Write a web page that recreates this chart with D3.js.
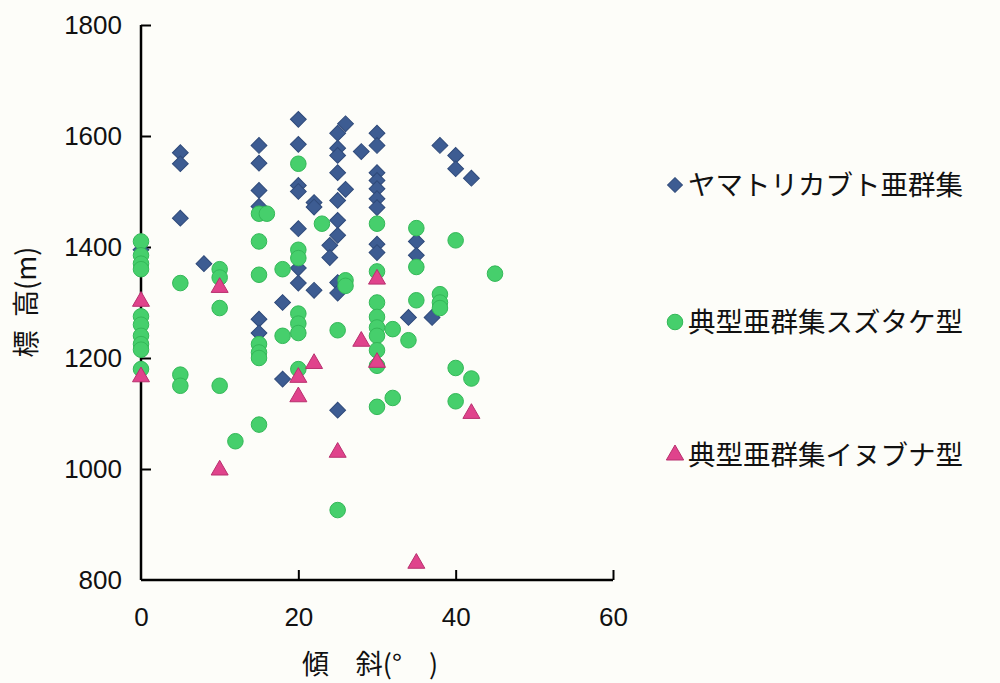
<!DOCTYPE html>
<html>
<head>
<meta charset="utf-8">
<script src="https://cdn.jsdelivr.net/npm/d3@7"></script>
<style>
  body { margin: 0; background: #fdfdf9; }
  text { font-family: "Liberation Sans", Arial, sans-serif; }
  .jp { font-family: "Noto Sans CJK JP", sans-serif; }
</style>
</head>
<body>
<div id="chart"></div>
<script>
// slope (deg) / elevation (m) pairs
const yamatorikabuto = [
  [0, 1395],
  [5, 1570], [5, 1550], [5, 1452],
  [8, 1370],
  [15, 1583], [15, 1551], [15, 1502], [15, 1473], [15, 1270], [15, 1245],
  [18, 1300], [18, 1162],
  [20, 1630], [20, 1585], [20, 1511], [20, 1500], [20, 1433], [20, 1362], [20, 1335],
  [22, 1480], [22, 1472], [22, 1322],
  [24, 1403], [24, 1381],
  [25, 1605], [25, 1578], [25, 1565], [25, 1534], [25, 1484], [25, 1448], [25, 1421], [25, 1336], [25, 1317], [25, 1106],
  [26, 1622], [26, 1504],
  [28, 1572],
  [30, 1605], [30, 1583], [30, 1534], [30, 1520], [30, 1505], [30, 1487], [30, 1471], [30, 1405], [30, 1390],
  [34, 1273], [35, 1410], [35, 1385], [37, 1273],
  [38, 1583], [40, 1565], [40, 1541], [42, 1524]
];

const suzutake = [
  [0, 1410], [0, 1385], [0, 1370], [0, 1360], [0, 1275], [0, 1260], [0, 1240], [0, 1225], [0, 1215], [0, 1180],
  [5, 1335], [5, 1170], [5, 1150],
  [10, 1360], [10, 1345], [10, 1290], [10, 1150],
  [12, 1050],
  [15, 1460], [15, 1410], [15, 1350], [15, 1225], [15, 1210], [15, 1200], [15, 1080],
  [16, 1460],
  [18, 1360], [18, 1240],
  [20, 1550], [20, 1395], [20, 1380], [20, 1280], [20, 1262], [20, 1245], [20, 1180],
  [23, 1442],
  [25, 1250], [25, 926],
  [26, 1340], [26, 1330],
  [30, 1442], [30, 1356], [30, 1300], [30, 1274], [30, 1255], [30, 1240], [30, 1214], [30, 1186], [30, 1112],
  [32, 1252], [32, 1128],
  [34, 1232],
  [35, 1434], [35, 1364], [35, 1304],
  [38, 1315], [38, 1300], [38, 1290],
  [40, 1412], [40, 1182], [40, 1122],
  [42, 1163],
  [45, 1352]
];

const inubuna = [
  [0, 1302], [0, 1166],
  [10, 1327], [10, 998],
  [20, 1165], [20, 1130],
  [22, 1190],
  [25, 1030],
  [28, 1230],
  [30, 1342], [30, 1192],
  [35, 830],
  [42, 1100]
];

const seriesNames = ["ヤマトリカブト亜群集", "典型亜群集スズタケ型", "典型亜群集イヌブナ型"];
const xTicks = [0, 20, 40, 60];
const yTicks = [800, 1000, 1200, 1400, 1600, 1800];

const width = 1000, height = 683;
const margin = { top: 25, left: 141, right: 387, bottom: 103 };

const svg = d3.select("#chart")
  .append("svg")
  .attr("width", width)
  .attr("height", height);

svg.append("rect")
  .attr("width", width)
  .attr("height", height)
  .attr("fill", "#fdfdf9");

const x = d3.scaleLinear()
  .domain([0, 60])
  .range([margin.left, width - margin.right]);

const y = d3.scaleLinear()
  .domain([800, 1800])
  .range([height - margin.bottom, margin.top]);

// X axis, ticks pointing inward
const xAxis = svg.append("g")
  .attr("transform", "translate(0," + y(800) + ")")
  .call(d3.axisBottom(x).tickValues(xTicks).tickFormat(d3.format("d")).tickSize(-10).tickPadding(28));
xAxis.select(".domain").attr("stroke-width", 2.5).attr("d", "M" + x(0) + ",0H" + x(60));
xAxis.selectAll(".tick line").attr("stroke-width", 2);
xAxis.selectAll(".tick").filter(d => d === 0).select("line").remove();
xAxis.selectAll("text")
  .attr("font-size", 26)
  .attr("fill", "#111");

// Y axis
const yAxis = svg.append("g")
  .attr("transform", "translate(" + x(0) + ",0)")
  .call(d3.axisLeft(y).tickValues(yTicks).tickFormat(d3.format("d")).tickSize(-10).tickPadding(19));
yAxis.select(".domain").attr("stroke-width", 2.5).attr("d", "M0," + y(1800) + "V" + y(800));
yAxis.selectAll(".tick line").attr("stroke-width", 2);
yAxis.selectAll(".tick").filter(d => d === 800).select("line").remove();
yAxis.selectAll("text")
  .attr("font-size", 26)
  .attr("fill", "#111");

// Axis titles
svg.append("text")
  .attr("class", "jp")
  .attr("x", 370)
  .attr("y", 674)
  .attr("text-anchor", "middle")
  .attr("font-size", 27)
  .attr("fill", "#111")
  .text("傾\u3000斜(°\u2003)");

svg.append("text")
  .attr("class", "jp")
  .attr("transform", "translate(36,302) rotate(-90)")
  .attr("text-anchor", "middle")
  .attr("font-size", 27)
  .attr("fill", "#111")
  .text("標\u2002高(m)");

// Markers
const diamond = d3.symbol().type(d3.symbolSquare).size(125);
const circle = d3.symbol().type(d3.symbolCircle).size(190);
const triangle = d3.symbol().type(d3.symbolTriangle).size(125);

const styles = [
  { data: yamatorikabuto, sym: diamond, rot: 45, fill: "#3d5c92", stroke: "#2f4a7a", legendSize: 110 },
  { data: suzutake, sym: circle, rot: 0, fill: "#46cf6c", stroke: "#34b858", legendSize: 190 },
  { data: inubuna, sym: triangle, rot: 0, fill: "#e0438c", stroke: "#b8306e", legendSize: 130 }
];

styles.forEach(function(s) {
  svg.append("g")
    .selectAll("path")
    .data(s.data)
    .enter()
    .append("path")
    .attr("d", s.sym())
    .attr("transform", d => "translate(" + x(d[0]) + "," + y(d[1]) + ") rotate(" + s.rot + ")")
    .attr("fill", s.fill)
    .attr("stroke", s.stroke)
    .attr("stroke-width", 1);
});

// Legend
const legendY = [185, 322, 455];
styles.forEach(function(s, i) {
  const g = svg.append("g").attr("transform", "translate(675," + legendY[i] + ")");
  g.append("path")
    .attr("d", s.sym.size(s.legendSize)())
    .attr("transform", "rotate(" + s.rot + ")")
    .attr("fill", s.fill)
    .attr("stroke", s.stroke);
  g.append("text")
    .attr("class", "jp")
    .attr("x", 13)
    .attr("y", 10)
    .attr("font-size", 27.5)
    .attr("fill", "#111")
    .text(seriesNames[i]);
});
</script>
</body>
</html>
